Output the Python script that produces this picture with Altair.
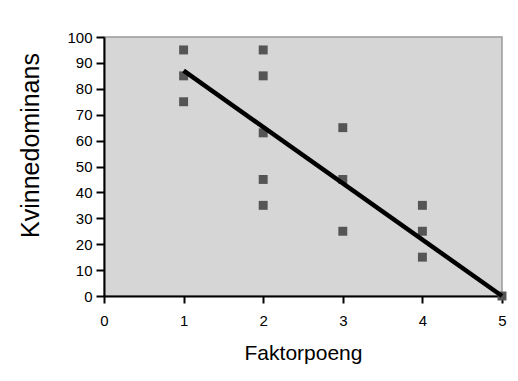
import altair as alt
import pandas as pd

# Data
faktor = [1, 1, 1, 2, 2, 2, 2, 2, 3, 3, 3, 4, 4, 4, 5]
kvinne = [95, 85, 75, 95, 85, 63, 45, 35, 65, 45, 25, 35, 25, 15, 0]
line_x = [1, 5]
line_y = [87, 0]
x_ticks = [0, 1, 2, 3, 4, 5]
y_ticks = [0, 10, 20, 30, 40, 50, 60, 70, 80, 90, 100]

pts = pd.DataFrame({"Faktorpoeng": faktor, "Kvinnedominans": kvinne})
ln = pd.DataFrame({"Faktorpoeng": line_x, "Kvinnedominans": line_y})

xs = alt.Scale(domain=[0, 5], nice=False, zero=False)
ys = alt.Scale(domain=[0, 100], nice=False, zero=False)

x_axis = alt.Axis(
    values=x_ticks, title="Faktorpoeng", grid=False, format="d",
    labelOverlap=False, labelFlush=False,
    domainColor="black", domainWidth=2, tickColor="black", tickWidth=2,
    tickSize=7, labelPadding=10, labelFont="Liberation Sans", labelFontSize=15,
    labelColor="black", titleFont="Liberation Sans", titleFontSize=21,
    titleFontWeight="normal", titleColor="black", titlePadding=14,
)
y_axis = alt.Axis(
    values=y_ticks, title="Kvinnedominans", grid=False, format="d",
    labelOverlap=False, labelFlush=False,
    domainColor="black", domainWidth=2, tickColor="black", tickWidth=2,
    tickSize=8, labelPadding=4, labelFont="Liberation Sans", labelFontSize=15,
    labelColor="black", titleFont="Liberation Sans", titleFontSize=25,
    titleFontWeight="normal", titleColor="black", titleX=-61, titleY=108,
    titleAngle=-90, titleAlign="center", titleBaseline="bottom",
)

points = alt.Chart(pts).mark_square(size=80, color="#555555", opacity=1).encode(
    x=alt.X("Faktorpoeng:Q", scale=xs, axis=x_axis),
    y=alt.Y("Kvinnedominans:Q", scale=ys, axis=y_axis),
)
line = alt.Chart(ln).mark_line(color="black", strokeWidth=4.5).encode(
    x=alt.X("Faktorpoeng:Q", scale=xs, axis=x_axis),
    y=alt.Y("Kvinnedominans:Q", scale=ys, axis=y_axis),
)

chart = (
    alt.layer(points, line)
    .properties(
        width=398, height=259,
        background="white",
        autosize=alt.AutoSizeParams(type="none"),
        padding={"left": 96, "top": 29, "right": 8, "bottom": 70},
    )
    .configure_view(fill="#d6d6d6", stroke="#9a9a9a", strokeWidth=1.5)
)

chart.save("out.html", embed_options={"renderer": "svg", "actions": False})
